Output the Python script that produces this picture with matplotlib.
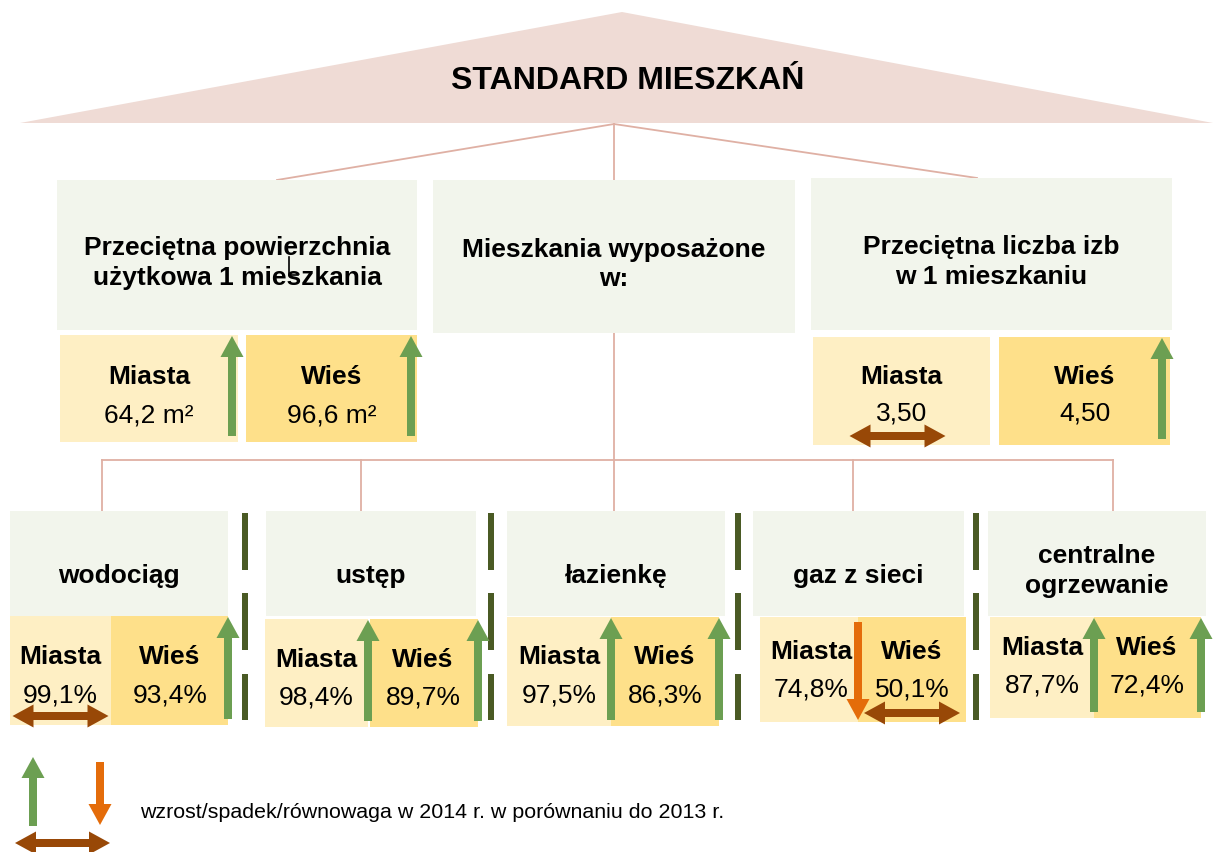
import matplotlib.pyplot as plt
from matplotlib.patches import Polygon, Rectangle
import numpy as np

plt.rcParams['font.family'] = ['Liberation Sans', 'DejaVu Sans']

# data
title = 'STANDARD MIESZKAŃ'
top_titles = ['Przeciętna powierzchnia\nużytkowa 1 mieszkania',
              'Mieszkania wyposażone\nw:',
              'Przeciętna liczba izb\nw 1 mieszkaniu']
area_labels = ['Miasta', 'Wieś']
area_values = ['64,2 m²', '96,6 m²']
area_trend = ['up', 'up']
rooms_values = ['3,50', '4,50']
rooms_trend = ['eq', 'up']
equip_items = ['wodociąg', 'ustęp', 'łazienkę', 'gaz z sieci', 'centralne\nogrzewanie']
equip_miasta = [99.1, 98.4, 97.5, 74.8, 87.7]
equip_wies = [93.4, 89.7, 86.3, 50.1, 72.4]
trend_miasta = ['eq', 'up', 'up', 'down', 'up']
trend_wies = ['up', 'up', 'up', 'eq', 'up']
legend_text = 'wzrost/spadek/równowaga w 2014 r. w porównaniu do 2013 r.'

# colours
ROOF = '#EFDBD5'
LINE = '#DFB0A4'
HEAD = '#F2F5EC'
MIASTA = '#FEEFC4'
WIES = '#FEE08A'
GREEN = '#6C9F52'
ORANGE = '#E46C0A'
BROWN = '#984807'
DASH = '#4A5A24'

FS = 19
LS = 1.3


def arrow(ax, x0, y0, x1, y1, color, double=False, sw=4, hw=11.5, hl=21):
    p0 = np.array([x0, y0], float)
    p1 = np.array([x1, y1], float)
    d = (p1 - p0) / np.linalg.norm(p1 - p0)
    n = np.array([-d[1], d[0]])
    b1 = p1 - d * hl
    if double:
        b0 = p0 + d * hl
        pts = [p0, b0 + n * hw, b0 + n * sw, b1 + n * sw, b1 + n * hw, p1,
               b1 - n * hw, b1 - n * sw, b0 - n * sw, b0 - n * hw]
    else:
        pts = [p0 + n * sw, b1 + n * sw, b1 + n * hw, p1,
               b1 - n * hw, b1 - n * sw, p0 - n * sw]
    ax.add_patch(Polygon(pts, closed=True, facecolor=color, edgecolor='none', zorder=5))


def trend_mark(ax, trend, x0, x1, y0, y1):
    # box from x0..x1, y0 (top)..y1 (bottom)
    if trend == 'up':
        arrow(ax, x1, y1 - 6, x1, y0 + 1, GREEN)
    elif trend == 'down':
        arrow(ax, x1, y0 + 5, x1, y1 - 2, ORANGE)
    else:
        xc = (x0 + x1) / 2
        arrow(ax, xc - 48, y1 - 9, xc + 48, y1 - 9, BROWN, double=True)


def box(ax, x0, y0, x1, y1, color):
    ax.add_patch(Rectangle((x0, y0), x1 - x0, y1 - y0, facecolor=color,
                           edgecolor='none', zorder=1))


fig = plt.figure(figsize=(12.13, 8.52), dpi=100)
ax = fig.add_axes([0, 0, 1, 1])
ax.set_xlim(0, 1213)
ax.set_ylim(852, 0)
ax.axis('off')

# roof
ax.add_patch(Polygon([[20, 123], [622, 12], [1213, 123]], closed=True,
                     facecolor=ROOF, edgecolor='none', zorder=1))
ax.text(628, 81, title, ha='center', va='center', fontsize=23, fontweight='bold')

# connector lines
lw = 1.3
ax.plot([614, 277], [124, 180], color=LINE, lw=lw, zorder=0)
ax.plot([614, 977], [124, 178], color=LINE, lw=lw, zorder=0)
ax.plot([614, 614], [124, 180], color=LINE, lw=lw, zorder=0)
ax.plot([614, 614], [333, 460], color=LINE, lw=lw, zorder=0)
ax.plot([102, 1113], [460, 460], color=LINE, lw=lw, zorder=0)
for xv in [102, 361, 614, 853, 1113]:
    ax.plot([xv, xv], [460, 511], color=LINE, lw=lw, zorder=0)

# top boxes
top_boxes = [(57, 180, 417, 330), (433, 180, 795, 333), (811, 178, 1172, 330)]
for (x0, y0, x1, y1), t in zip(top_boxes, top_titles):
    box(ax, x0, y0, x1, y1, HEAD)
    ax.text((x0 + x1) / 2, (y0 + y1) / 2 + 8, t, ha='center', va='center',
            fontsize=FS, fontweight='bold', linespacing=LS)
# small stray mark in the first title box
ax.plot([289, 289, 298], [257, 275, 275], color='black', lw=1.2, zorder=3)

# average usable floor area
area_boxes = [(60, 335, 238, 442), (246, 335, 417, 442)]
for (x0, y0, x1, y1), lab, val, tr, c in zip(area_boxes, area_labels, area_values,
                                            area_trend, [MIASTA, WIES]):
    box(ax, x0, y0, x1, y1, c)
    xc = (x0 + x1) / 2
    ax.text(xc, 377, lab, ha='center', va='center', fontsize=FS, fontweight='bold')
    ax.text(xc, 415, val, ha='center', va='center', fontsize=FS)
    trend_mark(ax, tr, x0, x1 - 6, y0, y1)

# average number of rooms
room_boxes = [(813, 337, 990, 445), (999, 337, 1170, 445)]
for (x0, y0, x1, y1), lab, val, tr, c in zip(room_boxes, area_labels, rooms_values,
                                            rooms_trend, [MIASTA, WIES]):
    box(ax, x0, y0, x1, y1, c)
    xc = (x0 + x1) / 2
    ax.text(xc, 377, lab, ha='center', va='center', fontsize=FS, fontweight='bold')
    ax.text(xc, 414, val, ha='center', va='center', fontsize=FS)
    trend_mark(ax, tr, x0, x1 - 8, y0, y1)

# equipment groups
head_x = [(10, 228), (266, 476), (507, 725), (753, 964), (988, 1206)]
mia_x = [(10, 111), (265, 368), (507, 611), (760, 858), (990, 1094)]
wie_x = [(111, 228), (370, 478), (611, 719), (858, 966), (1094, 1201)]
sub_y = [(616, 725), (619, 727), (617, 726), (617, 722), (617, 718)]
mia_tx = [60, 316, 559, 811, 1042]
wie_tx = [170, 423, 665, 912, 1147]
text_y = [657, 660, 657, 652, 648]
dash_x = [245, 491, 738, 976]

for i, item in enumerate(equip_items):
    hx0, hx1 = head_x[i]
    box(ax, hx0, 511, hx1, 616, HEAD)
    ty = 571 if '\n' in item else 576
    ax.text((hx0 + hx1) / 2, ty, item, ha='center', va='center', fontsize=FS,
            fontweight='bold', linespacing=LS)
    y0, y1 = sub_y[i]
    cells = [(mia_x[i], mia_tx[i], 'Miasta', equip_miasta[i], trend_miasta[i], MIASTA),
             (wie_x[i], wie_tx[i], 'Wieś', equip_wies[i], trend_wies[i], WIES)]
    for (x0, x1), tx, lab, v, tr, c in cells:
        box(ax, x0, y0, x1, y1, c)
        ax.text(tx, text_y[i], lab, ha='center', va='center', fontsize=FS,
                fontweight='bold')
        ax.text(tx, text_y[i] + 38, f'{v:.1f}%'.replace('.', ','), ha='center',
                va='center', fontsize=FS)
        trend_mark(ax, tr, x0, x1, y0, y1)

for xd in dash_x:
    for ya, yb in [(513, 570), (593, 650), (674, 720)]:
        ax.add_patch(Rectangle((xd - 3, ya), 6, yb - ya, facecolor=DASH,
                               edgecolor='none', zorder=2))

# legend
arrow(ax, 33, 826, 33, 757, GREEN)
arrow(ax, 100, 762, 100, 825, ORANGE)
arrow(ax, 15, 843, 110, 843, BROWN, double=True)
ax.text(140, 812, legend_text, ha='left', va='center', fontsize=15.4)

fig.savefig('out.png', dpi=100)
